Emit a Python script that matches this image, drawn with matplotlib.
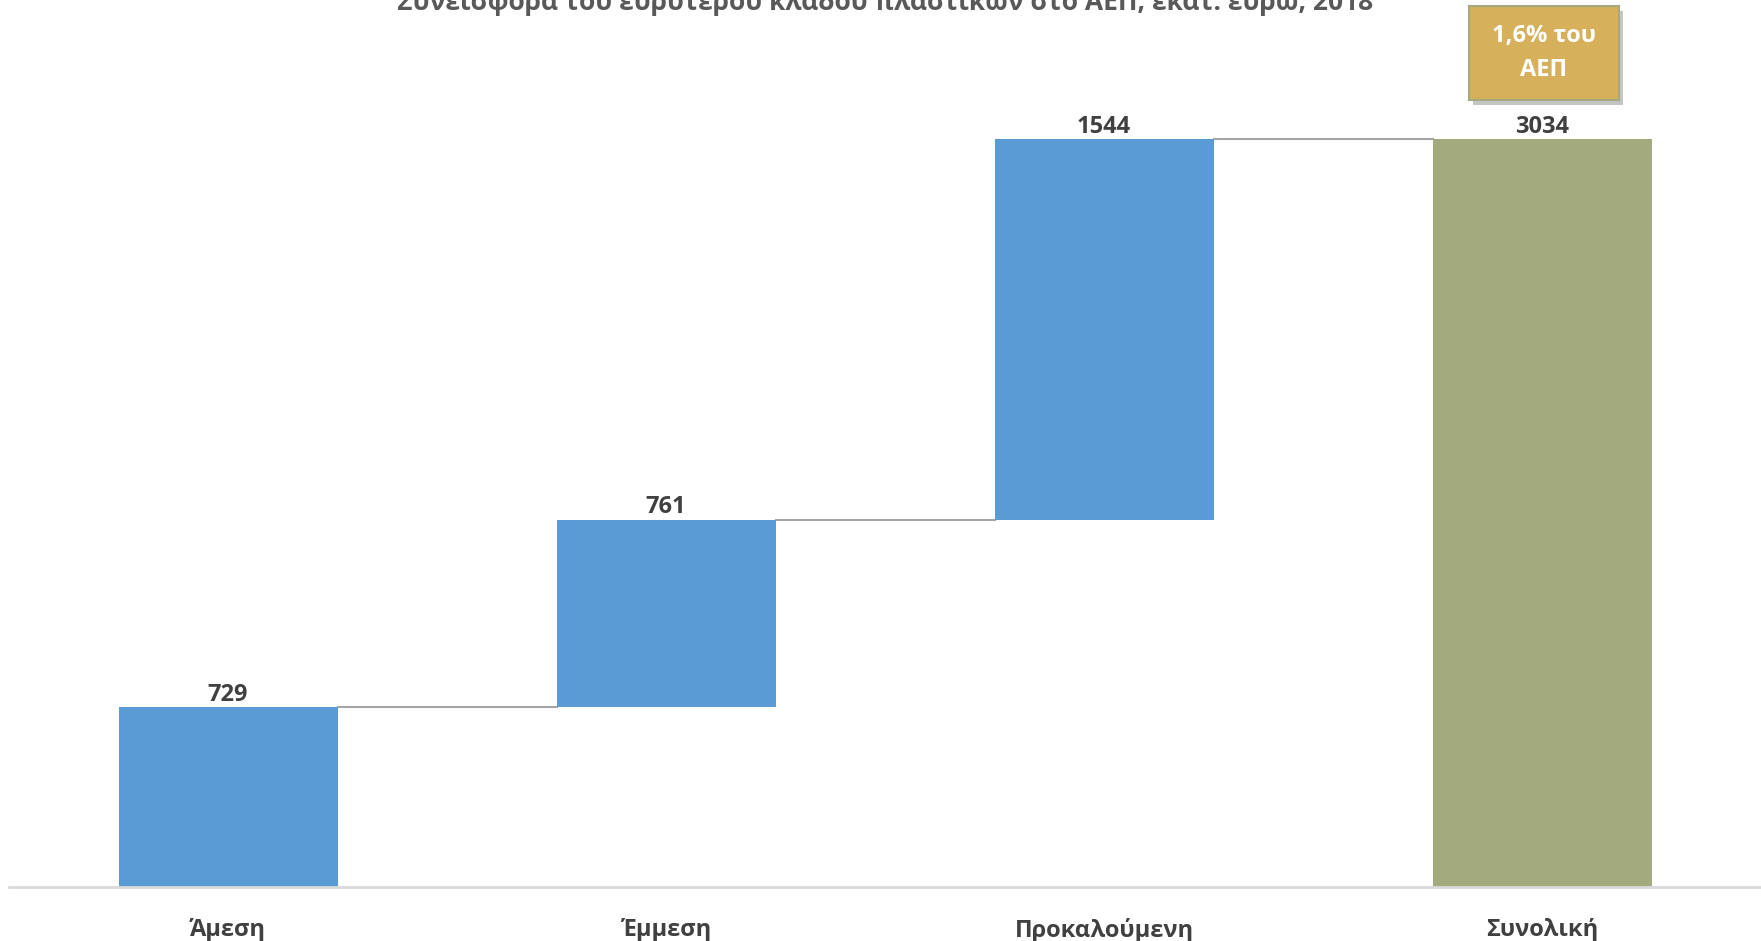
import matplotlib.pyplot as plt
import matplotlib.patches as mpatches
import numpy as np

plt.rcParams['font.family'] = ['Open Sans', 'DejaVu Sans']

# Data
categories = ['Άμεση', 'Έμμεση', 'Προκαλούμενη', 'Συνολική']
contributions = [729, 761, 1544]
total = 3034
title = 'Συνεισφορά του ευρύτερου κλάδου πλαστικών στο ΑΕΠ, εκατ. ευρώ, 2018'
note = '1,6% του\nΑΕΠ'

BLUE = '#5B9BD5'
OLIVE = '#A3AA7E'
GOLD = '#D6B05B'
TEXT = '#404040'

fig = plt.figure(figsize=(17.61, 9.41), dpi=100)
ax = fig.add_axes([9 / 1761, 54 / 941, 1752 / 1761, 887 / 941])

x = np.arange(len(categories))
bottoms = np.concatenate([[0], np.cumsum(contributions)[:-1]])
tops = bottoms + np.array(contributions)
width = 0.5

ax.bar(x[:3], contributions, width, bottom=bottoms, color=BLUE, zorder=2)
ax.bar(x[3], total, width, color=OLIVE, zorder=2)

# connector lines
levels = list(tops)
for i, lvl in enumerate(levels):
    ax.plot([x[i] + width / 2, x[i + 1] - width / 2], [lvl, lvl],
            color='#A6A6A6', lw=1.5, zorder=1)

# value labels
for xi, top, v in zip(x, list(tops) + [total], contributions + [total]):
    ax.text(xi, top + 2, str(v), ha='center', va='bottom',
            fontsize=17, fontweight='bold', color=TEXT)

ax.set_xlim(-0.5, 3.5)
ax.set_ylim(0, 3598)
ax.set_xticks(x)
ax.set_xticklabels(categories, fontsize=17, fontweight='bold', color=TEXT)
ax.tick_params(axis='x', length=0, pad=22)
ax.set_yticks([])
for s in ['top', 'right', 'left']:
    ax.spines[s].set_visible(False)
ax.spines['bottom'].set_color('#D9D9D9')
ax.spines['bottom'].set_linewidth(2)

# title (cut at the top as in the original)
fig.text(0.5025, 1 - 10 / 941, title, ha='center', va='baseline',
         fontsize=19, fontweight='bold', color='#595959')

# annotation box with shadow
bx, by, bw, bh = 1469 / 1761, 1 - 100 / 941, 150 / 1761, 94 / 941
shadow = mpatches.Rectangle((bx + 4 / 1761, by - 5 / 941), bw, bh,
                            transform=fig.transFigure, facecolor='#7F7F7F',
                            alpha=0.45, edgecolor='none', zorder=3)
box = mpatches.Rectangle((bx, by), bw, bh, transform=fig.transFigure,
                         facecolor=GOLD, edgecolor='#A3AA7E', lw=1.5, zorder=4)
fig.patches.extend([shadow, box])
fig.text(bx + bw / 2, by + bh / 2, note, ha='center', va='center',
         fontsize=17, fontweight='bold', color='white', linespacing=1.6,
         zorder=5)

fig.savefig('out.png', dpi=100)
